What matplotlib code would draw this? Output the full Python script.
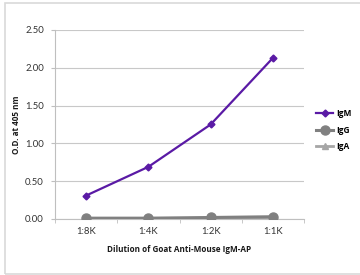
import matplotlib
matplotlib.use('Agg')
import matplotlib.pyplot as plt
from matplotlib.patches import Rectangle

# Data
dilutions = ['1:8K', '1:4K', '1:2K', '1:1K']
igm = [0.31, 0.69, 1.25, 2.13]
igg = [0.01, 0.01, 0.02, 0.03]
iga = [0.01, 0.01, 0.01, 0.02]
y_ticks = [0.0, 0.5, 1.0, 1.5, 2.0, 2.5]

plt.rcParams['font.family'] = ['Lato', 'DejaVu Sans']
bold_font = ['Open Sans', 'DejaVu Sans']

fig = plt.figure(figsize=(3.6, 2.75), dpi=100)
ax = fig.add_axes([55 / 360, 1 - 219 / 275, 249 / 360, 189 / 275])

# light frame around the picture
fig.patches.append(Rectangle((5 / 360, 1 / 275), 360, 271 / 275, transform=fig.transFigure,
                             fill=False, edgecolor='#d9d9d9', linewidth=1.2))

x = range(len(dilutions))
ax.plot(x, iga, color='#a6a6a6', marker='^', markersize=5, linewidth=2, label='IgA', zorder=3)
ax.plot(x, igg, color='#808080', marker='o', markersize=6.5, linewidth=2.2, label='IgG', zorder=4)
ax.plot(x, igm, color='#5a1aa5', marker='D', markersize=3.5, linewidth=1.6, label='IgM', zorder=5)

ax.set_xlim(-0.5, len(dilutions) - 0.5)
ax.set_ylim(0, 2.5)
ax.set_yticks(y_ticks)
ax.set_yticklabels(['%.2f' % v for v in y_ticks])
ax.set_xticks(list(x))
ax.set_xticklabels(dilutions)
ax.set_xticks([i + 0.5 for i in range(-1, len(dilutions))], minor=True)
ax.tick_params(axis='x', which='major', length=0, pad=6)
ax.tick_params(axis='x', which='minor', length=3, color='#bfbfbf', direction='out')
ax.tick_params(axis='y', length=3, color='#bfbfbf', pad=5)
ax.tick_params(labelsize=6.8, labelcolor='#333333')

ax.grid(axis='y', color='#c8c8c8', linewidth=0.8)
ax.set_axisbelow(True)
for side in ['top', 'right']:
    ax.spines[side].set_visible(False)
for side in ['left', 'bottom']:
    ax.spines[side].set_color('#bfbfbf')

ax.set_xlabel('Dilution of Goat Anti-Mouse IgM-AP', fontsize=5.9, fontweight='bold',
              family=bold_font, labelpad=6, color='#1a1a1a')
ax.set_ylabel('O.D. at 405 nm', fontsize=5.9, fontweight='bold',
              family=bold_font, labelpad=3, color='#1a1a1a')

handles, labels = ax.get_legend_handles_labels()
ax.legend(handles[::-1], labels[::-1], loc='center left', bbox_to_anchor=(1.02, 0.47),
          frameon=False, handlelength=2.0, handletextpad=0.4, labelspacing=0.9,
          prop={'weight': 'bold', 'size': 6, 'family': bold_font})

fig.savefig('out.png', dpi=100)
